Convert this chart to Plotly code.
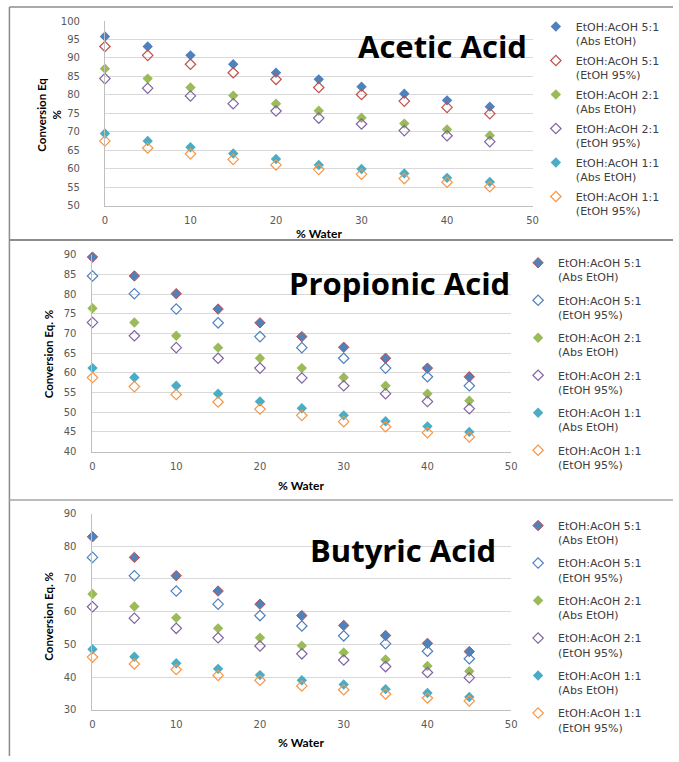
import plotly.graph_objects as go

# ---------------- data ----------------
water = [0, 5, 10, 15, 20, 25, 30, 35, 40, 45]

series_names = [
    "EtOH:AcOH 5:1<br>(Abs EtOH)",
    "EtOH:AcOH 5:1<br>(EtOH 95%)",
    "EtOH:AcOH 2:1<br>(Abs EtOH)",
    "EtOH:AcOH 2:1<br>(EtOH 95%)",
    "EtOH:AcOH 1:1<br>(Abs EtOH)",
    "EtOH:AcOH 1:1<br>(EtOH 95%)",
]

acetic_51_abs = [95.8, 93.1, 90.7, 88.3, 86.0, 84.2, 82.2, 80.3, 78.5, 76.8]
acetic_51_95 = [93.1, 90.7, 88.3, 86.0, 84.2, 82.0, 80.1, 78.3, 76.6, 74.9]
acetic_21_abs = [87.1, 84.4, 82.0, 79.8, 77.6, 75.7, 73.8, 72.2, 70.6, 69.0]
acetic_21_95 = [84.4, 81.8, 79.7, 77.6, 75.6, 73.7, 72.1, 70.3, 68.9, 67.3]
acetic_11_abs = [69.5, 67.5, 65.8, 64.1, 62.6, 61.0, 59.9, 58.7, 57.5, 56.4]
acetic_11_95 = [67.5, 65.6, 64.0, 62.5, 61.0, 59.8, 58.5, 57.3, 56.3, 55.1]

propionic_51_abs = [89.4, 84.6, 80.1, 76.2, 72.7, 69.2, 66.5, 63.7, 61.2, 59.0]
propionic_51_95 = [84.6, 80.1, 76.2, 72.7, 69.2, 66.4, 63.7, 61.2, 59.0, 56.7]
propionic_21_abs = [76.4, 72.8, 69.4, 66.4, 63.7, 61.2, 58.8, 56.7, 54.7, 52.9]
propionic_21_95 = [72.8, 69.4, 66.4, 63.7, 61.2, 58.7, 56.7, 54.7, 52.7, 50.9]
propionic_11_abs = [61.2, 58.8, 56.7, 54.7, 52.7, 51.0, 49.2, 47.7, 46.4, 45.0]
propionic_11_95 = [58.8, 56.5, 54.5, 52.6, 50.8, 49.2, 47.6, 46.3, 44.8, 43.7]

butyric_51_abs = [82.9, 76.6, 71.0, 66.3, 62.3, 58.8, 55.8, 52.7, 50.3, 47.8]
butyric_51_95 = [76.6, 71.0, 66.3, 62.3, 58.8, 55.6, 52.6, 50.2, 47.9, 45.6]
butyric_21_abs = [65.4, 61.6, 58.1, 54.9, 52.0, 49.6, 47.5, 45.4, 43.4, 41.8]
butyric_21_95 = [61.5, 58.0, 54.9, 52.0, 49.5, 47.1, 45.2, 43.2, 41.4, 39.8]
butyric_11_abs = [48.5, 46.2, 44.2, 42.5, 40.6, 39.0, 37.7, 36.3, 35.1, 33.9]
butyric_11_95 = [46.1, 44.0, 42.3, 40.5, 39.0, 37.3, 36.1, 34.8, 33.6, 32.7]

panel_titles = ["Acetic Acid", "Propionic Acid", "Butyric Acid"]
y_titles = ["Conversion Eq<br>%", "Conversion Eq. %", "Conversion Eq. %"]
x_title = "% Water"
y_ranges = [[50, 100], [40, 90], [30, 90]]
y_dticks = [5, 5, 10]

panels = [
    [acetic_51_abs, acetic_51_95, acetic_21_abs, acetic_21_95, acetic_11_abs, acetic_11_95],
    [propionic_51_abs, propionic_51_95, propionic_21_abs, propionic_21_95, propionic_11_abs, propionic_11_95],
    [butyric_51_abs, butyric_51_95, butyric_21_abs, butyric_21_95, butyric_11_abs, butyric_11_95],
]

# ---------------- styles ----------------
BLUE, RED, GREEN, PURPLE, TEAL, ORANGE = "#4F81BD", "#C0504D", "#9BBB59", "#8064A2", "#4BACC6", "#F79646"

# (symbol, fill, line colour, line width) per panel per series
styles = [
    [("diamond", BLUE, BLUE, 0), ("diamond-open", RED, RED, 1.2), ("diamond", GREEN, GREEN, 0),
     ("diamond-open", PURPLE, PURPLE, 1.2), ("diamond", TEAL, TEAL, 0), ("diamond-open", ORANGE, ORANGE, 1.2)],
    [("diamond", BLUE, RED, 1), ("diamond-open", BLUE, BLUE, 1.2), ("diamond", GREEN, GREEN, 0),
     ("diamond-open", PURPLE, PURPLE, 1.2), ("diamond", TEAL, TEAL, 0), ("diamond-open", ORANGE, ORANGE, 1.2)],
    [("diamond", BLUE, RED, 1), ("diamond-open", BLUE, BLUE, 1.2), ("diamond", GREEN, GREEN, 0),
     ("diamond-open", PURPLE, PURPLE, 1.2), ("diamond", TEAL, TEAL, 0), ("diamond-open", ORANGE, ORANGE, 1.2)],
]

W, H = 679, 762


def px_x(x):
    return x / W


def px_y(y):
    return 1 - y / H


# plot areas in pixels: (left, right, top, bottom)
areas = [(103.3, 536.7, 15.3, 202.7), (90.7, 515.0, 252.7, 452.7), (90.7, 515.0, 515.7, 715.0)]
ylabel_gap = [23, 14, 14]
legend_pos = [(540, 7.0), (522, 247.0), (522, 514.0)]
legend_gap = [2.4, 5.9, 5.9]
title_pos = [(445, 41), (402, 281), (405, 553)]
ytitle_pos = [(47, 110), (46.5, 353), (46, 620)]
xtitle_pos = [(320, 231), (301.7, 486.7), (301.7, 748)]

fig = go.Figure()

for p in range(3):
    ax = "" if p == 0 else str(p + 1)
    leg = "legend" if p == 0 else "legend" + str(p + 1)
    for s in range(6):
        sym, col, lcol, lw = styles[p][s]
        fig.add_trace(go.Scatter(
            x=water, y=panels[p][s], mode="markers", name=series_names[s],
            xaxis="x" + ax, yaxis="y" + ax, legend=leg, legendgroup=f"p{p}s{s}",
            marker=dict(symbol=sym, size=8, color=col, line=dict(color=lcol, width=lw)),
            cliponaxis=False,
        ))
    l, r, t, b = areas[p]
    axis_common = dict(showline=True, linecolor="#BFBFBF", linewidth=1, zeroline=False,
                       tickfont=dict(family="DejaVu Sans", size=10, color="#595959"))
    fig.layout["xaxis" + ax] = dict(
        domain=[px_x(l), px_x(r)], range=[0, 50], dtick=10, tick0=0, showgrid=False,
        anchor="y" + ax, ticks="", ticklabelstandoff=5, **axis_common)
    fig.layout["yaxis" + ax] = dict(
        domain=[px_y(b), px_y(t)], range=y_ranges[p], dtick=y_dticks[p], tick0=y_ranges[p][0],
        showgrid=True, gridcolor="#D9D9D9", gridwidth=1, anchor="x" + ax,
        ticks="", ticklabelstandoff=ylabel_gap[p] - 1, **axis_common)
    lx, ly = legend_pos[p]
    fig.layout[leg] = dict(
        x=px_x(lx), y=px_y(ly), xanchor="left", yanchor="top", valign="top",
        font=dict(family="DejaVu Sans", size=11, color="#404040"),
        bgcolor="rgba(0,0,0,0)", itemwidth=30, tracegroupgap=legend_gap[p],
        traceorder="grouped", itemclick=False, itemdoubleclick=False)
    tx, ty = title_pos[p]
    fig.add_annotation(text="<b>" + panel_titles[p] + "</b>", x=px_x(tx), y=px_y(ty),
                       xref="paper", yref="paper", showarrow=False,
                       xanchor="center", yanchor="middle",
                       font=dict(family="Open Sans", size=31, color="#000000"))
    yx, yy = ytitle_pos[p]
    fig.add_annotation(text="<b>" + y_titles[p] + "</b>", x=px_x(yx), y=px_y(yy),
                       xref="paper", yref="paper", showarrow=False, textangle=-90,
                       xanchor="center", yanchor="middle",
                       font=dict(family="Lato", size=11.5, color="#000000"))
    xx, xy = xtitle_pos[p]
    fig.add_annotation(text="<b>" + x_title + "</b>", x=px_x(xx), y=px_y(xy),
                       xref="paper", yref="paper", showarrow=False,
                       xanchor="center", yanchor="middle",
                       font=dict(family="Lato", size=12, color="#000000"))

# panel frame lines
frame = "#8C8C8C"
shapes = [
    dict(type="line", xref="paper", yref="paper", x0=px_x(6.5), x1=1, y0=px_y(1), y1=px_y(1),
         line=dict(color=frame, width=1.5)),
    dict(type="line", xref="paper", yref="paper", x0=px_x(6.5), x1=px_x(6.5), y0=0, y1=px_y(1),
         line=dict(color=frame, width=1.5)),
    dict(type="line", xref="paper", yref="paper", x0=px_x(6.5), x1=1, y0=px_y(237.7), y1=px_y(237.7),
         line=dict(color=frame, width=2)),
    dict(type="line", xref="paper", yref="paper", x0=px_x(6.5), x1=1, y0=px_y(502), y1=px_y(502),
         line=dict(color="#A6A6A6", width=1.5)),
]
fig.update_layout(
    width=W, height=H, margin=dict(l=0, r=0, t=0, b=0),
    paper_bgcolor="white", plot_bgcolor="white", shapes=shapes,
    showlegend=True,
)

fig.write_html("out.html")
